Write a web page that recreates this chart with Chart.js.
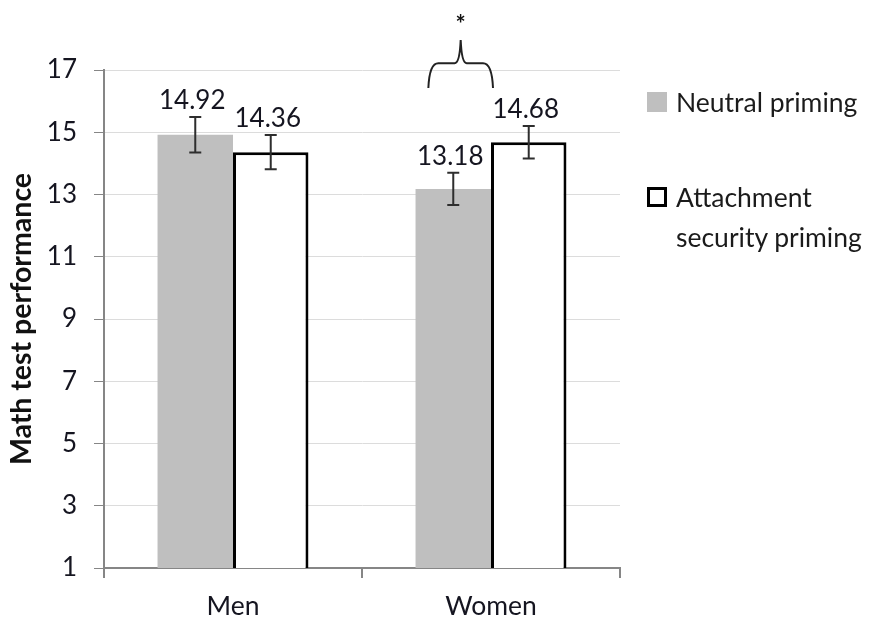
<!DOCTYPE html>
<html>
<head>
<meta charset="utf-8">
<script src="https://cdn.jsdelivr.net/npm/chart.js@4.4.0/dist/chart.umd.min.js"></script>
<style>
  body { margin: 0; background: #fff; }
  #wrap { position: relative; width: 873px; height: 620px; }
  #legend { position: absolute; left: 647px; top: 82px; font-family: Lato, sans-serif; font-size: 26.5px; color: #1b1b1b; }
  .item { position: relative; padding-left: 29px; line-height: 40px; }
  .box { position: absolute; left: 0; width: 20px; height: 20px; box-sizing: border-box; }
</style>
</head>
<body>
<div id="wrap">
  <canvas id="bar-chart" width="873" height="620"></canvas>
  <div id="legend"></div>
</div>
<script>
var categories = ["Men", "Women"];
var neutral = [14.92, 13.18];
var neutralErr = [0.57, 0.52];
var attachment = [14.36, 14.68];
var attachmentErr = [0.55, 0.52];
var seriesNames = ["Neutral priming", "Attachment security priming"];
var legendLines = [["Neutral priming"], ["Attachment", "security priming"]];
var yTicks = [1, 3, 5, 7, 9, 11, 13, 15, 17];

// error bars + value labels on top of each bar
const errorBars = {
  id: 'errorBars',
  afterDatasetsDraw(chart) {
    const ctx = chart.ctx, y = chart.scales.y;
    chart.data.datasets.forEach((ds, i) => {
      chart.getDatasetMeta(i).data.forEach((bar, j) => {
        const v = ds.data[j], e = ds.errors[j];
        const top = y.getPixelForValue(v + e), bot = y.getPixelForValue(v - e);
        ctx.save();
        ctx.strokeStyle = '#2e2e2e';
        ctx.lineWidth = 2;
        ctx.beginPath();
        ctx.moveTo(bar.x, top); ctx.lineTo(bar.x, bot);
        ctx.moveTo(bar.x - 6, top); ctx.lineTo(bar.x + 6, top);
        ctx.moveTo(bar.x - 6, bot); ctx.lineTo(bar.x + 6, bot);
        ctx.stroke();
        ctx.fillStyle = '#151520';
        ctx.font = '26px Lato, sans-serif';
        ctx.textAlign = 'center';
        ctx.textBaseline = 'alphabetic';
        ctx.fillText(v.toFixed(2), bar.x - 3, top - 8);
        ctx.restore();
      });
    });
  }
};

// significance brace over the Women group
const brace = {
  id: 'brace',
  afterDraw(chart) {
    const ctx = chart.ctx, y = chart.scales.y;
    const g = chart.getDatasetMeta(0).data[1];
    const l = g.x - g.width * 0.33, r = g.x + g.width / 2 + 2, m = (l + r) / 2;
    const tip = y.getPixelForValue(16.42), mid = y.getPixelForValue(17.22), peak = y.getPixelForValue(17.96);
    ctx.save();
    ctx.strokeStyle = '#222';
    ctx.lineWidth = 2;
    ctx.beginPath();
    ctx.moveTo(l, tip);
    ctx.quadraticCurveTo(l + 1, mid, l + 10, mid);
    ctx.lineTo(m - 6, mid);
    ctx.quadraticCurveTo(m - 1, mid, m, peak);
    ctx.quadraticCurveTo(m + 1, mid, m + 6, mid);
    ctx.lineTo(r - 10, mid);
    ctx.quadraticCurveTo(r - 1, mid, r, tip);
    ctx.stroke();
    ctx.fillStyle = '#111';
    ctx.font = 'bold 24px Lato, sans-serif';
    ctx.textAlign = 'center';
    ctx.textBaseline = 'middle';
    ctx.fillText('*', m, y.getPixelForValue(18.6) + 5);
    ctx.restore();
  }
};

new Chart(document.getElementById("bar-chart"), {
  type: 'bar',
  data: {
    labels: categories,
    datasets: [{
      label: seriesNames[0],
      data: neutral,
      errors: neutralErr,
      backgroundColor: '#bfbfbf',
      borderWidth: 0,
      categoryPercentage: 0.585,
      barPercentage: 1.0
    }, {
      label: seriesNames[1],
      data: attachment,
      errors: attachmentErr,
      backgroundColor: '#ffffff',
      borderColor: '#000000',
      borderWidth: 3,
      categoryPercentage: 0.585,
      barPercentage: 1.0
    }]
  },
  options: {
    responsive: false,
    animation: false,
    layout: { padding: { left: 5, right: 253, top: 70, bottom: 0 } },
    plugins: {
      legend: { display: false },
      tooltip: { enabled: false }
    },
    scales: {
      x: {
        grid: { offset: true, drawOnChartArea: false, tickLength: 10, color: '#868686', lineWidth: 2 },
        border: { color: '#868686', width: 2 },
        ticks: { color: '#151520', font: { family: 'Lato', size: 26.5 }, padding: 13 },
        afterFit: function (s) { s.height = 52; }
      },
      y: {
        min: 1, max: 17,
        afterBuildTicks: function (s) { s.ticks = yTicks.map(v => ({ value: v })); },
        grid: { color: '#dcdcdc', tickColor: '#868686', tickLength: 10 },
        border: { color: '#868686', width: 2 },
        ticks: { color: '#151520', font: { family: 'Lato', size: 26 }, padding: 17 },
        title: { display: true, text: 'Math test performance', color: '#111', font: { family: 'Lato', size: 28.5, weight: 'bold' }, padding: { top: 0, bottom: 0 } },
        afterFit: function (s) { s.width = 99; }
      }
    }
  },
  plugins: [errorBars, brace]
});

// legend in HTML, built from the series
var lg = document.getElementById('legend');
var boxStyles = ['background:#bfbfbf;', 'background:#fff;border:3px solid #000;'];
var tops = ['0px', '55px'];
legendLines.forEach(function (lines, i) {
  var d = document.createElement('div');
  d.className = 'item';
  d.style.marginTop = tops[i];
  d.innerHTML = '<span class="box" style="top:10px;' + boxStyles[i] + '"></span>' + lines.join('<br>');
  lg.appendChild(d);
});
</script>
</body>
</html>
